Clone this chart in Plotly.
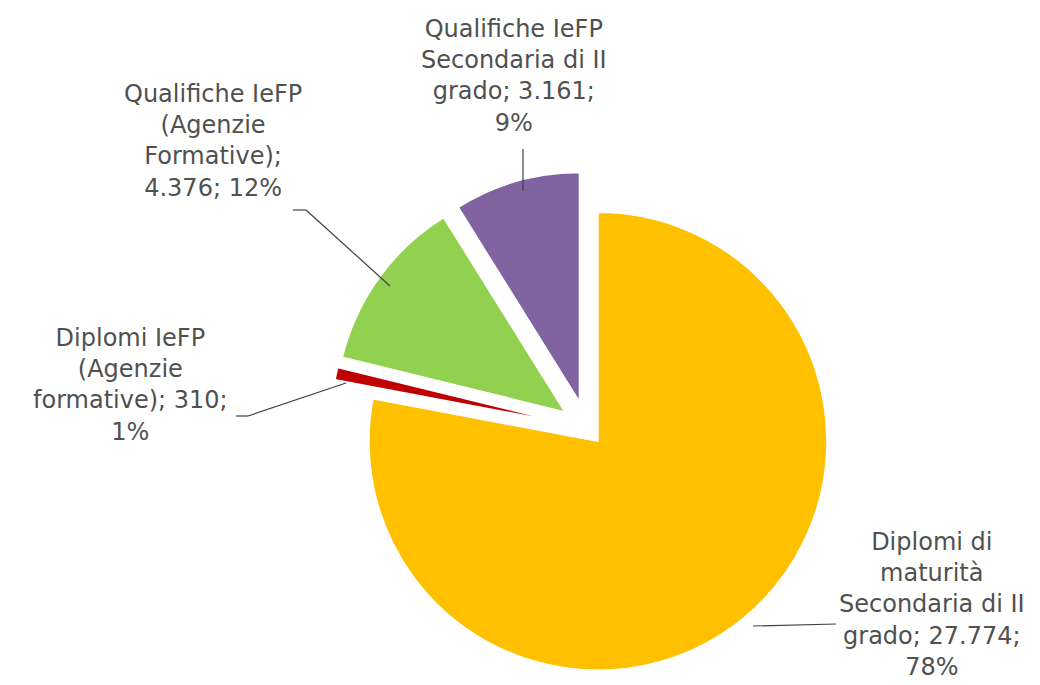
import plotly.graph_objects as go

# ---- data ----
categories = [
    "Diplomi di maturità Secondaria di II grado",
    "Diplomi IeFP (Agenzie formative)",
    "Qualifiche IeFP (Agenzie Formative)",
    "Qualifiche IeFP Secondaria di II grado",
]
values = [27774, 310, 4376, 3161]
label_lines = [
    ["Diplomi di", "maturità", "Secondaria di II", "grado; {v};", "{p}"],
    ["Diplomi IeFP", "(Agenzie", "formative); {v};", "{p}"],
    ["Qualifiche IeFP", "(Agenzie", "Formative);", "{v}; {p}"],
    ["Qualifiche IeFP", "Secondaria di II", "grado; {v};", "{p}"],
]
colors = ["#FFC000", "#C00000", "#92D050", "#8064A2"]
pulls = [0.075, 0.12, 0.12, 0.12]

W, H = 1040, 685
total = sum(values)


def fmt_it(n):
    return f"{n:,}".replace(",", ".")


def px(x, y):
    return x / W, 1 - y / H


cx, cy, half = 579, 420, 256.5
fig = go.Figure(go.Pie(
    labels=categories,
    values=values,
    sort=False,
    direction="clockwise",
    rotation=0,
    pull=pulls,
    marker=dict(colors=colors, line=dict(color="white", width=1.5)),
    textinfo="none",
    showlegend=False,
    domain=dict(x=[(cx - half) / W, (cx + half) / W],
                y=[(H - cy - half) / H, (H - cy + half) / H]),
))

# label placement (pixel centres) and leader lines (pixel polylines)
label_pos = [(924, 596), (122, 377), (205, 133), (506, 68)]
leaders = [
    [(745, 618), (828, 616)],
    [(338, 375), (240, 408), (228, 408)],
    [(382, 278), (298, 202), (285, 202)],
    [(515, 183), (515, 141)],
]

font = dict(family="DejaVu Sans, sans-serif", size=24, color="#505050")
for i, v in enumerate(values):
    pct = f"{round(100 * v / total)}%"
    txt = "<br>".join(l.format(v=fmt_it(v), p=pct) for l in label_lines[i])
    x, y = px(*label_pos[i])
    fig.add_annotation(x=x, y=y, xref="paper", yref="paper", text=txt,
                       showarrow=False, font=font, align="center",
                       xanchor="center", yanchor="middle")
    pts = leaders[i]
    for a, b in zip(pts[:-1], pts[1:]):
        x0, y0 = px(*a)
        x1, y1 = px(*b)
        fig.add_shape(type="line", xref="paper", yref="paper",
                      x0=x0, y0=y0, x1=x1, y1=y1,
                      line=dict(color="#404040", width=1.2))

fig.update_layout(
    width=W, height=H,
    margin=dict(l=0, r=0, t=0, b=0),
    paper_bgcolor="white",
    plot_bgcolor="white",
)

fig.write_html("out.html")
